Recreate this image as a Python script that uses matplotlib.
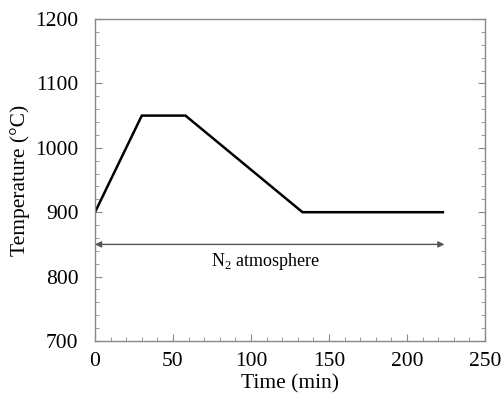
import matplotlib.pyplot as plt
from matplotlib.ticker import MultipleLocator

plt.rcParams['font.family'] = ['Liberation Serif', 'DejaVu Serif']
plt.rcParams['mathtext.fontset'] = 'custom'
plt.rcParams['mathtext.rm'] = 'Liberation Serif'

# heating profile
time_min = [0, 30, 58, 133, 223]
temp_c = [900, 1050, 1050, 900, 900]

# N2 atmosphere span
atm_start = 0
atm_end = 224
atm_level = 850

fig = plt.figure(figsize=(5.02, 4.03), dpi=100)
ax = fig.add_axes([95/502, 1-341/403, 390/502, 322/403])

ax.plot(time_min, temp_c, color='black', lw=1.8, solid_joinstyle='miter')

ax.annotate('', xy=(atm_end, atm_level), xytext=(atm_start, atm_level),
            arrowprops=dict(arrowstyle='<|-|>', color='#555555', lw=1.0,
                            mutation_scale=9, shrinkA=0, shrinkB=0))
ax.text(109, 823, r'N$_2$ atmosphere', ha='center', va='center', fontsize=13)

ax.set_xlim(0, 250)
ax.set_ylim(700, 1200)
ax.xaxis.set_major_locator(MultipleLocator(50))
ax.xaxis.set_minor_locator(MultipleLocator(10))
ax.yaxis.set_major_locator(MultipleLocator(100))
ax.yaxis.set_minor_locator(MultipleLocator(20))

ax.tick_params(which='both', direction='in', right=True, top=False,
               colors='#888888', labelcolor='black', labelsize=15.5)
ax.tick_params(which='major', length=5)
ax.tick_params(which='minor', length=3)
ax.tick_params(axis='x', pad=8)
ax.tick_params(axis='y', pad=12)
for s in ax.spines.values():
    s.set_color('#888888')
    s.set_linewidth(1.0)

ax.set_xlabel('Time (min)', fontsize=15.5, labelpad=2)
ax.set_ylabel('Temperature (°C)', fontsize=15.5, labelpad=4)

fig.savefig('out.png', dpi=100)
